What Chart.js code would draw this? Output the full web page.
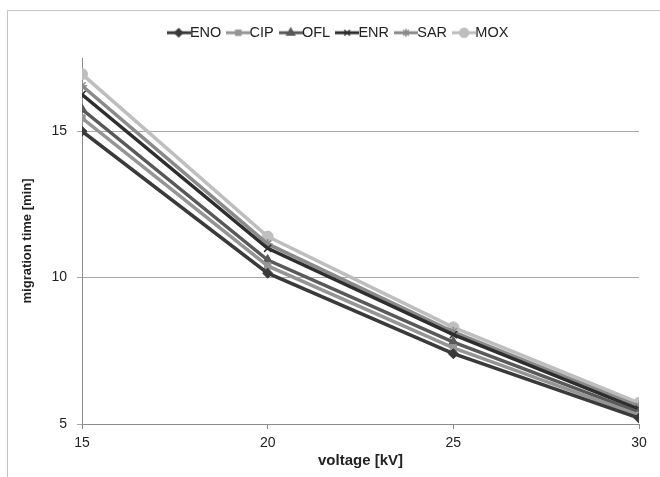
<!DOCTYPE html>
<html>
<head>
<meta charset="utf-8">
<script src="https://cdn.jsdelivr.net/npm/chart.js@4/dist/chart.umd.min.js"></script>
<style>
  html, body { margin: 0; padding: 0; background: #fff; }
  #wrap { width: 660px; height: 477px; }
</style>
</head>
<body>
<div id="wrap"><canvas id="c" width="660" height="477"></canvas></div>
<script>
// Separation voltage (kV) on the x axis
const voltages = [15, 20, 25, 30];

// Migration times (min) per analyte
const eno = [15.0, 10.15, 7.4, 5.2];
const cip = [15.45, 10.4, 7.6, 5.3];
const ofl = [15.75, 10.6, 7.8, 5.4];
const enr = [16.25, 11.0, 8.05, 5.5];
const sar = [16.55, 11.15, 8.15, 5.6];
const mox = [16.95, 11.4, 8.3, 5.72];

const seriesNames = ['ENO', 'CIP', 'OFL', 'ENR', 'SAR', 'MOX'];
const seriesValues = [eno, cip, ofl, enr, sar, mox];
const seriesColors = ['#3a3a3a', '#959595', '#595959', '#2e2e2e', '#8a8a8a', '#bebebe'];
const seriesMarkers = ['rectRot', 'rect', 'triangle', 'crossRot', 'star', 'circle'];
const markerRadius = [5, 4.5, 5.5, 5, 5, 5.5];

// Axis ticks
const xTickValues = [15, 20, 25, 30];
const yTickValues = [5, 10, 15];

const FONT = "'Liberation Sans', Arial, sans-serif";

// Small line + marker icons for the legend
function legendIcon(color, style, radius) {
  const cv = document.createElement('canvas');
  cv.width = 24; cv.height = 14;
  const g = cv.getContext('2d');
  g.strokeStyle = color;
  g.lineWidth = 3;
  g.beginPath(); g.moveTo(0, 7); g.lineTo(24, 7); g.stroke();
  g.fillStyle = color;
  g.lineWidth = 1.5;
  Chart.helpers.drawPoint(g, { pointStyle: style, radius: radius * 0.8, borderWidth: 1.5, rotation: 0 }, 12, 7);
  return cv;
}
const legendIcons = seriesNames.map((n, i) => legendIcon(seriesColors[i], seriesMarkers[i], markerRadius[i]));

const datasets = seriesNames.map((name, i) => ({
  label: name,
  data: seriesValues[i].map((v, k) => ({ x: voltages[k], y: v })),
  borderColor: seriesColors[i],
  backgroundColor: seriesColors[i],
  borderWidth: 3.5,
  pointStyle: seriesMarkers[i],
  pointRadius: markerRadius[i],
  pointBorderWidth: seriesMarkers[i] === 'crossRot' || seriesMarkers[i] === 'star' ? 1.5 : 1,
  pointBorderColor: seriesColors[i],
  pointBackgroundColor: seriesColors[i],
  tension: 0,
  fill: false
}));

// Outer chart frame (left and top edges)
const framePlugin = {
  id: 'frame',
  beforeDraw(chart) {
    const c = chart.ctx;
    c.save();
    c.fillStyle = '#ffffff';
    c.fillRect(0, 0, chart.width, chart.height);
    c.strokeStyle = '#c4c4c4';
    c.lineWidth = 1;
    c.beginPath();
    c.moveTo(7.5, chart.height);
    c.lineTo(7.5, 10.5);
    c.lineTo(chart.width, 10.5);
    c.stroke();
    c.restore();
  }
};

// Move the legend row up and to the right of its layout slot
const legendNudge = {
  id: 'legendNudge',
  afterLayout(chart) {
    const lg = chart.legend;
    if (lg) {
      lg.top -= 8; lg.bottom -= 8;
      lg.left += 16; lg.right += 16;
    }
  }
};

new Chart(document.getElementById('c'), {
  type: 'line',
  data: { datasets },
  plugins: [framePlugin, legendNudge],
  options: {
    responsive: false,
    animation: false,
    devicePixelRatio: 1,
    layout: { padding: { left: 12, right: 21, top: 20.5, bottom: 7 } },
    plugins: {
      tooltip: { enabled: false },
      legend: {
        position: 'top',
        labels: {
          usePointStyle: true,
          pointStyleWidth: 8,
          padding: 13,
          color: '#222',
          font: { family: FONT, size: 14.5 },
          generateLabels: (chart) => chart.data.datasets.map((ds, i) => ({
            text: ds.label,
            pointStyle: legendIcons[i],
            fillStyle: ds.borderColor,
            strokeStyle: ds.borderColor,
            lineWidth: 0,
            fontColor: '#222',
            hidden: false,
            datasetIndex: i
          }))
        }
      }
    },
    scales: {
      x: {
        type: 'linear',
        min: 15,
        max: 30,
        afterBuildTicks: (s) => { s.ticks = xTickValues.map(v => ({ value: v })); },
        afterFit: (s) => { s.height = 46; },
        grid: { display: true, drawOnChartArea: false, drawTicks: true, tickLength: 5, color: '#8c8c8c' },
        border: { display: true, color: '#8c8c8c', width: 1 },
        ticks: { color: '#222', padding: 6, font: { family: FONT, size: 14 } },
        title: {
          display: true,
          text: 'voltage [kV]',
          color: '#222',
          padding: { top: 0, bottom: 0 },
          font: { family: FONT, size: 15, weight: 'bold' }
        }
      },
      y: {
        type: 'linear',
        min: 5,
        max: 17.5,
        afterBuildTicks: (s) => { s.ticks = yTickValues.map(v => ({ value: v })); },
        afterFit: (s) => { s.width = 70; },
        grid: { display: true, drawOnChartArea: true, drawTicks: true, tickLength: 5, color: '#a8a8a8' },
        border: { display: true, color: '#8c8c8c', width: 1 },
        ticks: { color: '#222', padding: 10, font: { family: FONT, size: 14 } },
        title: {
          display: true,
          text: 'migration time [min]',
          color: '#222',
          padding: { top: 8, bottom: 0 },
          font: { family: FONT, size: 13, weight: 'bold' }
        }
      }
    }
  }
});
</script>
</body>
</html>
